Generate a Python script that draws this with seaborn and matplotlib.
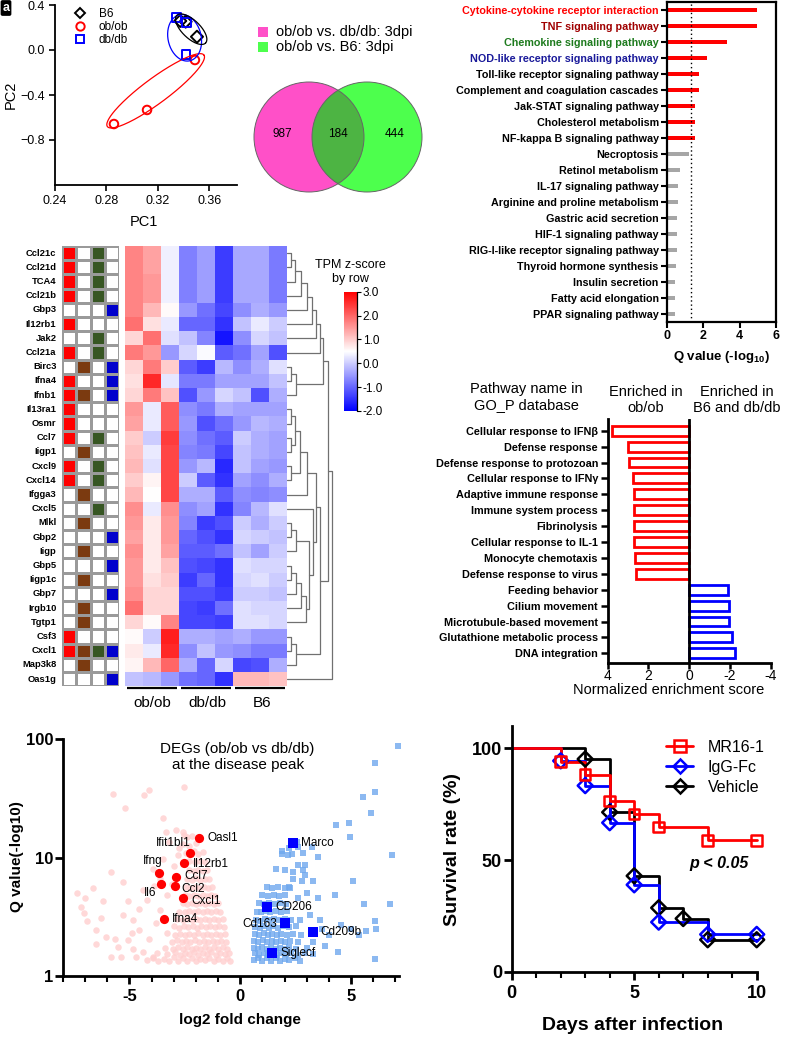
import numpy as np
import pandas as pd
import matplotlib
matplotlib.use('Agg')
import matplotlib.pyplot as plt
import seaborn as sns
from matplotlib import font_manager
from matplotlib.colors import LinearSegmentedColormap, ListedColormap
from matplotlib.patches import Circle, Rectangle
from matplotlib.lines import Line2D
from matplotlib.ticker import NullLocator, MultipleLocator

# ── Data ──────────────────────────────────────────────────────
# PCA
pca_group = ['B6', 'B6', 'B6', 'ob/ob', 'ob/ob', 'ob/ob', 'db/db', 'db/db', 'db/db']
pca_pc1 = [0.3373, 0.3415, 0.3503, 0.2858, 0.3115, 0.3487, 0.3345, 0.3423, 0.3418]
pca_pc2 = [0.258, 0.252, 0.118, -0.658, -0.533, -0.089, 0.290, 0.246, -0.038]
# group ellipses: centre and half-axis vectors (data units)
ell_center = {'ob/ob': (0.3182, -0.3627), 'db/db': (0.3407, 0.1084), 'B6': (0.3458, 0.1849)}
ell_major = {'ob/ob': (0.0375, 0.318), 'db/db': (-0.0039, 0.2044), 'B6': (0.0112, -0.1227)}
ell_minor = {'ob/ob': (0.0058, -0.0893), 'db/db': (0.0126, 0.0311), 'B6': (-0.0048, -0.0578)}

# Venn
venn_labels = ['ob/ob vs. db/db: 3dpi', 'ob/ob vs. B6: 3dpi']
venn_only_a, venn_both, venn_only_b = 987, 184, 444

# KEGG enrichment
kegg_terms = ['Cytokine-cytokine receptor interaction', 'TNF signaling pathway',
              'Chemokine signaling pathway', 'NOD-like receptor signaling pathway',
              'Toll-like receptor signaling pathway', 'Complement and coagulation cascades',
              'Jak-STAT signaling pathway', 'Cholesterol metabolism',
              'NF-kappa B signaling pathway', 'Necroptosis', 'Retinol metabolism',
              'IL-17 signaling pathway', 'Arginine and proline metabolism',
              'Gastric acid secretion', 'HIF-1 signaling pathway',
              'RIG-I-like receptor signaling pathway', 'Thyroid hormone synthesis',
              'Insulin secretion', 'Fatty acid elongation', 'PPAR signaling pathway']
kegg_q = [4.94, 4.94, 3.28, 2.18, 1.78, 1.78, 1.56, 1.56, 1.56, 1.23,
          0.72, 0.63, 0.60, 0.55, 0.55, 0.55, 0.51, 0.44, 0.44, 0.42]
kegg_significant = [True] * 9 + [False] * 11
kegg_label_colors = ['#FF0000', '#A00000', '#1E7B1E', '#1A1A9A'] + ['black'] * 16
kegg_cutoff = 1.3

# GSEA
gsea_terms = ['Cellular response to IFNβ', 'Defense response', 'Defense response to protozoan',
              'Cellular response to IFNγ', 'Adaptive immune response', 'Immune system process',
              'Fibrinolysis', 'Cellular response to IL-1', 'Monocyte chemotaxis',
              'Defense response to virus', 'Feeding behavior', 'Cilium movement',
              'Microtubule-based movement', 'Glutathione metabolic process', 'DNA integration']
gsea_nes = [3.79, 3.02, 2.97, 2.76, 2.73, 2.70, 2.70, 2.70, 2.65, 2.63,
            -1.90, -1.96, -1.96, -2.09, -2.27]
gsea_side = ['ob/ob'] * 10 + ['B6 and db/db'] * 5

# Heatmap
genes = ['Ccl21c', 'Ccl21d', 'TCA4', 'Ccl21b', 'Gbp3', 'Il12rb1', 'Jak2', 'Ccl21a', 'Birc3',
         'Ifna4', 'Ifnb1', 'Il13ra1', 'Osmr', 'Ccl7', 'Iigp1', 'Cxcl9', 'Cxcl14', 'Ifgga3',
         'Cxcl5', 'Mlkl', 'Gbp2', 'Iigp', 'Gbp5', 'Iigp1c', 'Gbp7', 'Irgb10', 'Tgtp1', 'Csf3',
         'Cxcl1', 'Map3k8', 'Oas1g']
heat_groups = ['ob/ob', 'db/db', 'B6']
ann_red = [1, 1, 1, 1, 0, 1, 0, 1, 0, 1, 1, 1, 1, 1, 0, 1, 1, 0, 0, 0, 0, 0, 0, 0, 0, 0, 0, 1, 1, 0, 0]
ann_brown = [0, 0, 0, 0, 0, 0, 0, 0, 1, 0, 1, 0, 0, 0, 1, 0, 0, 1, 0, 1, 0, 1, 0, 1, 0, 1, 1, 0, 1, 1, 0]
ann_green = [1, 1, 1, 1, 0, 0, 1, 1, 0, 0, 0, 0, 0, 1, 0, 1, 1, 0, 1, 0, 0, 0, 0, 0, 0, 0, 0, 0, 1, 0, 0]
ann_blue = [0, 0, 0, 0, 1, 0, 0, 0, 1, 1, 1, 0, 0, 0, 0, 0, 0, 0, 0, 0, 1, 0, 1, 0, 1, 0, 0, 0, 1, 0, 1]
tpm_z = [
    [1.7, 1.4, 0.35, -0.75, -0.45, -1.4, -0.35, -0.35, -0.8],
    [1.7, 1.4, 0.35, -0.75, -0.45, -1.4, -0.35, -0.35, -0.8],
    [1.7, 1.5, 0.35, -0.75, -0.45, -1.4, -0.35, -0.35, -0.8],
    [1.7, 1.5, 0.35, -0.75, -0.45, -1.4, -0.35, -0.35, -0.8],
    [1.7, 1.2, 0.55, -0.5, -0.9, -1.3, -0.6, -0.3, -0.5],
    [1.9, 0.8, 0.3, -1.0, -1.0, -1.5, -0.1, 0.3, 0.0],
    [0.9, 1.9, 0.2, -0.1, -0.7, -1.8, -0.6, 0.1, -0.1],
    [1.8, 1.5, -0.5, 0.1, 0.45, -1.1, -0.9, -0.4, -1.2],
    [0.9, 1.8, 1.0, -1.1, -1.4, -0.2, -0.6, -0.3, 0.2],
    [0.8, 2.6, 0.25, -0.8, -0.8, -0.4, -0.4, -0.4, -0.1],
    [0.9, 1.8, 1.1, -1.2, -0.5, 0.1, -0.1, -1.2, -0.3],
    [1.5, 0.3, 2.1, -0.6, -0.8, -0.3, -0.4, -0.4, -0.4],
    [1.4, 0.3, 2.1, -0.5, -1.2, -0.9, -0.5, -0.2, -0.3],
    [1.0, 0.0, 2.4, -0.6, -0.9, -1.1, 0.0, -0.3, -0.4],
    [1.1, 0.3, 2.3, -0.7, -0.8, -1.3, -0.1, -0.3, -0.4],
    [1.2, 0.2, 2.3, -0.5, -0.2, -1.6, -0.1, -0.4, -0.5],
    [1.0, 0.6, 2.3, 0.0, -1.1, -1.5, -0.4, -0.6, -0.3],
    [1.2, 0.5, 2.3, -0.3, -0.3, -1.1, -0.6, -0.7, -0.6],
    [1.6, 0.3, 1.6, -0.6, -0.4, -1.5, -0.7, -0.2, 0.2],
    [1.5, 0.7, 1.5, -0.7, -1.4, -1.2, 0.0, -0.3, 0.0],
    [1.4, 0.7, 1.5, -1.0, -1.2, -1.5, 0.1, 0.0, -0.1],
    [1.6, 0.7, 1.4, -1.1, -1.1, -0.9, -0.1, -0.4, 0.0],
    [1.5, 0.7, 1.1, -1.2, -1.3, -1.5, 0.2, 0.1, 0.1],
    [1.5, 0.8, 1.0, -1.4, -1.0, -1.5, 0.1, 0.2, 0.0],
    [1.6, 0.9, 0.9, -1.2, -1.2, -1.4, 0.0, 0.0, -0.1],
    [1.9, 0.9, 0.9, -1.3, -1.4, -0.9, 0.2, 0.1, 0.1],
    [0.9, 0.55, 1.7, -1.3, -1.3, -1.4, 0.2, 0.2, 0.1],
    [0.55, 0.0, 2.7, -0.3, -0.3, -0.4, -0.3, -0.5, -0.5],
    [0.7, 0.3, 2.6, -0.6, -0.1, -0.5, -0.6, -0.8, -0.8],
    [0.6, 1.2, 2.0, -0.3, -1.0, 0.1, -1.3, -1.2, -0.3],
    [-0.1, -0.2, -0.5, -0.9, -1.0, -1.5, 1.2, 1.2, 1.1],
]
# row dendrogram: (left, right, height); leaves are row indices
a_chain = (((((((0, 1, 4), 2, 8), 3, 14), 4, 20), 5, 25), 6, 29), 7, 33)
b_grp = ((8, 9, 4), 10, 9)
c_top = (((((11, 12, 4), (13, 14, 4), 8), (15, 16, 4), 13), 17, 20),
         (18, (((19, 20, 4), 21, 9), ((((22, 23, 4), 24, 9), 25, 14), 26, 19), 22), 26), 29)
f_grp = ((27, 28, 4), 29, 9)
row_tree = (((a_chain, b_grp, 36), (c_top, f_grp, 33), 41), 30, 45)

# Volcano
pink_pts = [
    (-4.2, 1.36), (-3.95, 1.42), (-3.7, 1.33), (-3.45, 1.4), (-3.2, 1.35), (-3.0, 1.44), (-2.8, 1.34),
    (-2.6, 1.41), (-2.4, 1.35), (-2.2, 1.43), (-2.0, 1.33), (-1.8, 1.4), (-1.6, 1.36), (-1.4, 1.42),
    (-1.2, 1.34), (-1.0, 1.4), (-0.8, 1.35), (-0.6, 1.42), (-0.48, 1.34),
    (-3.75, 1.55), (-3.3, 1.52), (-2.95, 1.58), (-2.7, 1.5), (-2.5, 1.56), (-2.3, 1.52), (-2.1, 1.58),
    (-1.9, 1.5), (-1.7, 1.56), (-1.5, 1.52), (-1.3, 1.58), (-1.1, 1.5), (-0.9, 1.56), (-0.7, 1.52),
    (-0.52, 1.57),
    (-3.4, 1.72), (-3.05, 1.68), (-2.8, 1.75), (-2.6, 1.7), (-2.4, 1.76), (-2.2, 1.69), (-2.0, 1.74),
    (-1.8, 1.7), (-1.6, 1.77), (-1.4, 1.69), (-1.2, 1.75), (-1.0, 1.7), (-0.8, 1.76), (-0.58, 1.7),
    (-3.1, 1.95), (-2.85, 2.0), (-2.65, 1.92), (-2.45, 1.98), (-2.25, 1.93), (-2.05, 2.0), (-1.85, 1.94),
    (-1.65, 1.99), (-1.45, 1.92), (-1.25, 1.98), (-1.05, 1.93), (-0.85, 1.99), (-0.63, 1.94),
    (-3.3, 2.3), (-2.95, 2.22), (-2.7, 2.28), (-2.5, 2.2), (-2.3, 2.27), (-2.1, 2.21), (-1.9, 2.29),
    (-1.7, 2.22), (-1.5, 2.28), (-1.3, 2.2), (-1.1, 2.26), (-0.9, 2.22), (-0.68, 2.28),
    (-3.0, 2.62), (-2.75, 2.55), (-2.55, 2.65), (-2.35, 2.58), (-2.15, 2.64), (-1.95, 2.56),
    (-1.75, 2.63), (-1.55, 2.57), (-1.35, 2.66), (-1.15, 2.58), (-0.95, 2.63), (-0.74, 2.57),
    (-2.85, 3.02), (-2.6, 2.95), (-2.4, 3.05), (-2.2, 2.97), (-2.0, 3.04), (-1.8, 2.96), (-1.6, 3.03),
    (-1.4, 2.95), (-1.2, 3.05), (-1.0, 2.98), (-0.8, 3.03),
    (-2.75, 3.5), (-2.5, 3.44), (-2.3, 3.55), (-2.1, 3.46), (-1.9, 3.53), (-1.7, 3.45), (-1.5, 3.55),
    (-1.3, 3.47), (-1.1, 3.52), (-0.9, 3.46),
    (-2.6, 4.1), (-2.4, 4.02), (-2.2, 4.15), (-2.0, 4.05), (-1.8, 4.12), (-1.6, 4.03), (-1.4, 4.14),
    (-1.2, 4.06), (-1.0, 4.1),
    (-2.5, 4.8), (-2.3, 4.72), (-2.1, 4.86), (-1.9, 4.75), (-1.7, 4.84), (-1.5, 4.74), (-1.3, 4.82),
    (-1.12, 4.76),
    (-2.45, 5.6), (-2.25, 5.5), (-2.05, 5.65), (-1.85, 5.52), (-1.65, 5.62), (-1.45, 5.5), (-1.28, 5.6),
    (-2.4, 6.6), (-2.2, 6.5), (-2.0, 6.7), (-1.8, 6.52), (-1.6, 6.65), (-1.42, 6.55),
    (-2.3, 7.8), (-2.1, 7.65), (-1.9, 7.9), (-1.7, 7.7), (-1.52, 7.85),
    (-2.3, 9.3), (-2.05, 9.1), (-1.8, 9.4), (-1.6, 9.2),
    (-2.45, 11.0), (-2.1, 11.3), (-1.9, 10.8), (-1.7, 11.2),
    (-2.6, 13.0), (-2.3, 12.6), (-2.0, 13.2), (-2.55, 15.6), (-2.2, 15.2),
    (-5.75, 34.4), (-4.36, 34.0), (-4.14, 37.3), (-2.52, 39.4), (-5.19, 26.2), (-3.47, 21.5),
    (-7.35, 5.06), (-6.65, 5.5), (-7.17, 3.85), (-7.07, 3.4), (-6.5, 2.45), (-5.82, 7.6), (-5.3, 6.25),
    (-6.2, 4.3), (-6.53, 1.85), (-6.05, 2.15), (-5.82, 1.46), (-5.37, 1.46), (-5.07, 2.0), (-4.85, 1.7),
    (-4.55, 2.45), (-4.1, 2.05), (-3.95, 1.46), (-5.07, 4.3), (-4.55, 3.7), (-5.3, 3.3), (-5.67, 2.05),
    (-4.85, 3.0), (-4.4, 5.3), (-3.95, 8.0), (-3.5, 9.8), (-3.2, 13.5), (-2.9, 17.0), (-3.35, 16.5),
    (-2.6, 16.5), (-2.4, 15.0), (-3.8, 2.8), (-3.6, 3.6), (-4.2, 4.4), (-3.9, 5.8), (-3.6, 6.6),
    (-3.3, 4.8), (-3.1, 6.0), (-3.0, 8.5), (-2.8, 10.5), (-2.75, 12.0), (-4.9, 2.3), (-6.9, 2.9),
    (-6.3, 3.1), (-5.5, 1.75), (-4.7, 1.45), (-4.4, 1.6), (-7.0, 4.6),
]
blue_pts = [
    (0.6, 1.36), (0.8, 1.42), (1.0, 1.34), (1.2, 1.41), (1.4, 1.35), (1.6, 1.43), (1.8, 1.34), (2.0, 1.4),
    (2.2, 1.36), (2.45, 1.42), (2.7, 1.35),
    (0.65, 1.55), (0.85, 1.5), (1.05, 1.57), (1.25, 1.51), (1.45, 1.56), (1.65, 1.5), (1.85, 1.57),
    (2.05, 1.52), (2.3, 1.56), (2.6, 1.5), (2.9, 1.55), (3.3, 1.52),
    (0.6, 1.72), (0.8, 1.68), (1.0, 1.76), (1.2, 1.7), (1.4, 1.75), (1.6, 1.68), (1.8, 1.74), (2.0, 1.7),
    (2.2, 1.76), (2.5, 1.7), (3.0, 1.74),
    (0.62, 1.96), (0.82, 1.92), (1.02, 2.0), (1.22, 1.93), (1.42, 1.99), (1.62, 1.92), (1.82, 1.98),
    (2.02, 1.94), (2.25, 1.99), (2.6, 1.93),
    (0.65, 2.25), (0.85, 2.2), (1.05, 2.3), (1.25, 2.22), (1.45, 2.28), (1.65, 2.2), (1.85, 2.27),
    (2.1, 2.22), (2.4, 2.28), (2.75, 2.22),
    (0.68, 2.6), (0.88, 2.55), (1.08, 2.65), (1.28, 2.56), (1.48, 2.63), (1.7, 2.55), (1.95, 2.62),
    (2.2, 2.57), (2.5, 2.64),
    (0.7, 3.0), (0.9, 2.94), (1.1, 3.05), (1.3, 2.96), (1.5, 3.04), (1.75, 2.95), (2.0, 3.03), (2.3, 2.96),
    (0.75, 3.5), (0.95, 3.44), (1.15, 3.55), (1.35, 3.46), (1.6, 3.53), (1.85, 3.45), (2.1, 3.54),
    (0.85, 4.1), (1.05, 4.02), (1.3, 4.15), (1.55, 4.05), (1.8, 4.12), (2.05, 4.03),
    (1.0, 4.8), (1.25, 4.72), (1.5, 4.86), (1.75, 4.75), (2.0, 4.84),
    (1.2, 5.6), (1.45, 5.5), (1.7, 5.65), (2.0, 5.52), (2.2, 5.62),
    (7.1, 88.5), (6.08, 63.5), (6.06, 35.7), (5.53, 32.3), (5.9, 23.9), (4.34, 18.8), (4.9, 19.5),
    (4.94, 14.8), (3.24, 12.2), (3.5, 10.2), (6.84, 10.6), (5.08, 6.35), (4.27, 4.84), (5.6, 4.06),
    (6.77, 4.06), (3.52, 4.6), (4.56, 2.7), (5.0, 2.5), (5.67, 2.4), (6.12, 2.5), (6.1, 2.9), (5.38, 2.2),
    (6.1, 1.39), (3.83, 1.8), (3.3, 1.95), (3.68, 2.5), (2.7, 3.0), (3.15, 3.3), (1.63, 8.0), (2.0, 7.8),
    (2.4, 7.5), (2.85, 7.8), (2.93, 7.1), (2.36, 6.6), (2.8, 6.3), (2.26, 5.5), (3.3, 6.4), (1.87, 10.7),
    (2.17, 10.5), (2.32, 10.7), (2.6, 12.3), (1.87, 11.3), (2.83, 11.0), (2.9, 8.7), (2.6, 8.6),
    (3.0, 5.0), (2.6, 4.6), (3.6, 3.0), (4.0, 2.2), (4.4, 1.6), (2.55, 13.5), (2.2, 12.0),
]
up_genes = ['Oasl1', 'Ifit1bl1', 'Il12rb1', 'Ifng', 'Ccl7', 'Il6', 'Ccl2', 'Cxcl1', 'Ifna4']
up_lfc = [-1.85, -2.28, -2.55, -3.66, -2.89, -3.56, -2.95, -2.59, -3.44]
up_q = [14.6, 11.0, 9.08, 7.38, 6.83, 6.0, 5.77, 4.54, 3.03]
down_genes = ['Marco', 'CD206', 'Cd163', 'Cd209b', 'Siglecf']
down_lfc = [2.37, 1.20, 2.03, 3.26, 1.44]
down_q = [13.2, 3.85, 2.79, 2.37, 1.56]

# Survival
surv_groups = ['Vehicle', 'IgG-Fc', 'MR16-1']
surv_days = {'Vehicle': [0, 3, 4, 5, 6, 7, 8, 10],
             'IgG-Fc': [0, 2, 3, 4, 5, 6, 8, 10],
             'MR16-1': [0, 2, 3, 4, 5, 6, 8, 10]}
surv_rate = {'Vehicle': [100, 95.2, 71.4, 42.9, 28.6, 23.8, 14.3, 14.3],
             'IgG-Fc': [100, 94.4, 83.3, 66.7, 38.9, 22.2, 16.7, 16.7],
             'MR16-1': [100, 94.1, 88.2, 76.5, 70.6, 64.7, 58.8, 58.8]}

# ── Style ─────────────────────────────────────────────────────
sns.set_style('ticks', rc={'axes.edgecolor': 'black', 'text.color': 'black',
                           'xtick.color': 'black', 'ytick.color': 'black',
                           'axes.labelcolor': 'black'})
plt.rcParams['font.family'] = ['Liberation Sans', 'DejaVu Sans']
plt.rcParams['mathtext.fontset'] = 'custom'
plt.rcParams['mathtext.rm'] = 'Liberation Sans'
plt.rcParams['mathtext.bf'] = 'Liberation Sans:bold'

names = {f.name for f in font_manager.fontManager.ttflist}
if 'Liberation Sans Narrow' in names:
    NARROW, NS = ['Liberation Sans Narrow', 'DejaVu Sans'], 1.0
else:
    NARROW, NS = ['Liberation Sans', 'DejaVu Sans'], 0.82

W, H = 787, 1038
fig = plt.figure(figsize=(W / 100, H / 100), dpi=100)


def px_axes(x0, y0, x1, y1):
    return fig.add_axes([x0 / W, 1 - y1 / H, (x1 - x0) / W, (y1 - y0) / H])


def ftext(x, y, s, **kw):
    kw.setdefault('ha', 'center')
    kw.setdefault('va', 'center')
    return fig.text(x / W, 1 - y / H, s, **kw)


def hollow(coll, lw):
    fc = coll.get_facecolors()
    coll.set_edgecolors(fc)
    coll.set_facecolors('none')
    coll.set_linewidths(lw)


# ── Panel: PCA ────────────────────────────────────────────────
ax = px_axes(55, 5, 237, 185)
pca_colors = {'B6': 'black', 'ob/ob': '#FF0000', 'db/db': '#0000FF'}
pca_markers = {'B6': 'D', 'ob/ob': 'o', 'db/db': 's'}
pca_df = pd.DataFrame({'PC1': pca_pc1, 'PC2': pca_pc2, 'group': pca_group})
sns.scatterplot(data=pca_df, x='PC1', y='PC2', hue='group', style='group',
                palette=pca_colors, markers=pca_markers, s=38, legend=False, ax=ax)
hollow(ax.collections[-1], 1.4)
t = np.linspace(0, 2 * np.pi, 200)
for g in ell_center:
    cx, cy = ell_center[g]
    ux, uy = ell_major[g]
    vx, vy = ell_minor[g]
    ax.plot(cx + ux * np.cos(t) + vx * np.sin(t), cy + uy * np.cos(t) + vy * np.sin(t),
            color=pca_colors[g], lw=0.9)
ax.set_xlim(0.24, 0.3814)
ax.set_ylim(-1.2, 0.4)
ax.set_xticks([0.24, 0.28, 0.32, 0.36])
ax.set_yticks([0.4, 0.0, -0.4, -0.8])
ax.set_xticklabels(['0.24', '0.28', '0.32', '0.36'])
ax.set_yticklabels(['0.4', '0.0', '\u22120.4', '\u22120.8'])
ax.tick_params(labelsize=9, length=4, width=1.2)
sns.despine(ax=ax)
for sp in ax.spines.values():
    sp.set_linewidth(1.3)
ax.set_xlabel('')
ax.set_ylabel('')
ftext(144, 222, 'PC1', fontsize=10.5)
ftext(11, 95, 'PC2', fontsize=10.5, rotation=90)
handles = [Line2D([], [], ls='none', marker=pca_markers[g], mfc='none', mec=pca_colors[g],
                  mew=1.4, ms=6 if g != 'B6' else 5) for g in ['B6', 'ob/ob', 'db/db']]
fig.legend(handles, ['B6', 'ob/ob', 'db/db'], loc='upper left',
           bbox_to_anchor=(74 / W, 1 - 8 / H), frameon=False, fontsize=8.5,
           handlelength=1.0, handletextpad=1.1, labelspacing=0.1, borderpad=0,
           borderaxespad=0)
ftext(6, 8, 'a', fontsize=9, fontweight='bold', color='white',
      bbox=dict(boxstyle='round,pad=0.15', fc='black', ec='none'))

# ── Panel: Venn ───────────────────────────────────────────────
axv = px_axes(245, 20, 435, 200)
axv.set_xlim(245, 435)
axv.set_ylim(200, 20)
axv.axis('off')
pink, green, mix = '#FF50C8', '#4DFF4D', '#4DB443'
c_a = Circle((309, 137), 55, fc=pink, ec='none')
axv.add_patch(c_a)
axv.add_patch(Circle((367, 137), 55, fc=green, ec='none'))
ov = Circle((367, 137), 55, fc=mix, ec='none')
axv.add_patch(ov)
ov.set_clip_path(c_a)
axv.add_patch(Circle((309, 137), 55, fc='none', ec='#666666', lw=0.7))
axv.add_patch(Circle((367, 137), 55, fc='none', ec='#666666', lw=0.7))
axv.text(282, 134, str(venn_only_a), fontsize=8.5, ha='center', va='center')
axv.text(338, 134, str(venn_both), fontsize=8.5, ha='center', va='center')
axv.text(395, 134, str(venn_only_b), fontsize=8.5, ha='center', va='center')
axv.add_patch(Rectangle((258, 27), 10, 10, fc=pink, ec='none'))
axv.add_patch(Rectangle((258, 42), 10, 10, fc=green, ec='none'))
axv.text(276, 32, venn_labels[0], fontsize=10.5, va='center')
axv.text(276, 47, venn_labels[1], fontsize=10.5, va='center')

# ── Panel: KEGG ───────────────────────────────────────────────
ax = px_axes(667, 2, 776, 322)
kdf = pd.DataFrame({'term': kegg_terms, 'q': kegg_q})
kcol = {tm: ('#FF0000' if s else '#A6A6A6') for tm, s in zip(kegg_terms, kegg_significant)}
sns.barplot(data=kdf, x='q', y='term', hue='term', palette=kcol, width=0.28,
            saturation=1, linewidth=0, legend=False, ax=ax)
ax.axvline(kegg_cutoff, ls=(0, (1, 2)), color='black', lw=1)
ax.set_xlim(0, 6)
ax.set_ylim(19.5, -0.5)
ax.set_xticks([0, 2, 4, 6])
ax.set_xticklabels(['0', '2', '4', '6'], fontweight='bold', fontsize=9)
ax.set_yticks(range(len(kegg_terms)))
ax.set_yticklabels(kegg_terms, family=NARROW, fontweight='bold', fontsize=9.5 * NS)
for lbl, c in zip(ax.get_yticklabels(), kegg_label_colors):
    lbl.set_color(c)
ax.tick_params(length=4, width=1.5, pad=2)
for sp in ax.spines.values():
    sp.set_linewidth(1.6)
ax.set_xlabel('')
ax.set_ylabel('')
ftext(721.5, 356.5, r'Q value (-log$_{\mathbf{10}}$)', fontsize=9.5, fontweight='bold')

# ── Panel: heatmap ────────────────────────────────────────────
hm_top, hm_bot = 246, 686.2
ax_ann = px_axes(62, hm_top, 119.3, hm_bot)
ann_codes = pd.DataFrame({'c1': [v * 1 for v in ann_red], 'c2': [v * 2 for v in ann_brown],
                          'c3': [v * 3 for v in ann_green], 'c4': [v * 4 for v in ann_blue]},
                         index=genes)
ann_cmap = ListedColormap(['white', '#FF0000', '#7B3A10', '#375623', '#0000CC'])
sns.heatmap(ann_codes, cmap=ann_cmap, vmin=-0.5, vmax=4.5, cbar=False, linewidths=0.8,
            linecolor='#9A9A9A', xticklabels=False, yticklabels=True, ax=ax_ann)
ax_ann.set_yticklabels(genes, family=NARROW, fontweight='bold', fontsize=8.2 * NS, rotation=0)
ax_ann.tick_params(axis='y', length=0, pad=4)
ax_ann.set_ylabel('')

ax_hm = px_axes(125, hm_top, 287.3, hm_bot)
cax = px_axes(344, 291.7, 357.3, 411)
z_cmap = LinearSegmentedColormap.from_list('bwr3', ['#0000FF', '#FFFFFF', '#FF0000'])
sns.heatmap(pd.DataFrame(tpm_z, index=genes), cmap=z_cmap, vmin=-2, vmax=3, ax=ax_hm,
            cbar_ax=cax, xticklabels=False, yticklabels=False,
            cbar_kws={'ticks': [-2, -1, 0, 1, 2, 3], 'format': '%.1f'})
cbar = ax_hm.collections[0].colorbar
cbar.outline.set_visible(False)
cax.plot([1, 1], [-2, 3], color='black', lw=0.9, clip_on=False)
cax.tick_params(labelsize=8.5, length=3, width=0.8, pad=1)
ftext(350, 272, 'TPM z-score\nby row', fontsize=9, linespacing=1.25)
for gi, g in enumerate(heat_groups):
    ax_hm.plot([gi * 3 + 0.12, gi * 3 + 2.9], [31.15, 31.15], color='black', lw=1.6,
               clip_on=False, solid_capstyle='butt')
    ftext(152 + gi * 55, 703, g, fontsize=11)

ax_d = px_axes(287.3, hm_top, 338, hm_bot)
ax_d.set_xlim(0, 50.7)
ax_d.set_ylim(31, 0)
ax_d.axis('off')


def draw_tree(node):
    if isinstance(node, int):
        return node + 0.5, 0.0
    left, right, h = node
    ly, lh = draw_tree(left)
    ry, rh = draw_tree(right)
    ax_d.plot([lh, h, h, rh], [ly, ly, ry, ry], color='#707070', lw=0.9)
    return (ly + ry) / 2, h


draw_tree(row_tree)

# ── Panel: GSEA ───────────────────────────────────────────────
ax = px_axes(607.7, 419, 770.7, 662.7)
gdf = pd.DataFrame({'term': gsea_terms, 'nes': gsea_nes, 'side': gsea_side})
sns.barplot(data=gdf, x='nes', y='term', hue='side', dodge=False, fill=False,
            palette={'ob/ob': '#FF0000', 'B6 and db/db': '#0000FF'}, saturation=1,
            linewidth=2, width=0.62, legend=False, ax=ax)
ax.axvline(0, color='black', lw=2)
ax.set_xlim(4, -4)
ax.set_ylim(14.59, -0.736)
ax.set_xticks([4, 2, 0, -2, -4])
ax.set_xticklabels(['4', '2', '0', '-2', '-4'], fontsize=10)
ax.set_yticks(range(len(gsea_terms)))
ax.set_yticklabels(gsea_terms, family=NARROW, fontweight='bold', fontsize=9.6 * NS)
ax.tick_params(axis='y', length=5, width=1.8, pad=2)
ax.tick_params(axis='x', length=4, width=1.8, pad=0.5)
sns.despine(ax=ax)
for sp in ['left', 'bottom']:
    ax.spines[sp].set_linewidth(2)
ax.set_xlabel('')
ax.set_ylabel('')
ftext(526, 397, 'Pathway name in\nGO_P database', fontsize=10.5, linespacing=1.1)
ftext(646, 400, 'Enriched in\nob/ob', fontsize=10.5, linespacing=1.1)
ftext(737, 400, 'Enriched in\nB6 and db/db', fontsize=10.5, linespacing=1.1)
ftext(669, 690, 'Normalized enrichment score', fontsize=10.5)

# ── Panel: Volcano ────────────────────────────────────────────
ax = px_axes(63, 739.3, 398.7, 976)
ax.set_yscale('log')
sns.scatterplot(x=[p[0] for p in pink_pts], y=[p[1] for p in pink_pts], color='#FFCFCF',
                alpha=0.8, s=22, linewidth=0, ax=ax)
sns.scatterplot(x=[p[0] for p in blue_pts], y=[p[1] for p in blue_pts], color='#6FA8EE',
                alpha=0.8, s=20, marker='s', linewidth=0, ax=ax, clip_on=False)
sns.scatterplot(x=up_lfc, y=up_q, color='#FF0000', s=44, linewidth=0, ax=ax)
sns.scatterplot(x=down_lfc, y=down_q, color='#0000FF', s=44, marker='s', linewidth=0, ax=ax)
up_off = {'Oasl1': (8, 0, 'left'), 'Ifit1bl1': (-16, 10, 'center'), 'Il12rb1': (9, -1, 'left'),
          'Ifng': (-6, 12, 'center'), 'Ccl7': (8, 1, 'left'), 'Il6': (-11, -9, 'center'),
          'Ccl2': (6.5, -2.7, 'left'), 'Cxcl1': (8, -2.7, 'left'), 'Ifna4': (8, 0, 'left')}
down_off = {'Marco': (8, 0, 'left'), 'CD206': (9, 0, 'left'), 'Cd163': (-8, -0.5, 'right'),
            'Cd209b': (8, -0.5, 'left'), 'Siglecf': (8.5, 0, 'left')}
for names_, xs, ys, offs in [(up_genes, up_lfc, up_q, up_off), (down_genes, down_lfc, down_q, down_off)]:
    for n, x, y in zip(names_, xs, ys):
        dx, dy, ha = offs[n]
        ax.annotate(n, (x, y), xytext=(dx * 0.72, dy * 0.72), textcoords='offset points',
                    ha=ha, va='center', fontsize=8.5)
ax.set_xlim(-8, 7.15)
ax.set_ylim(1, 100)
ax.set_yticks([1, 10, 100])
ax.set_yticklabels(['1', '10', '100'], fontsize=12, fontweight='bold')
ax.yaxis.set_minor_locator(NullLocator())
ax.set_xticks([-5, 0, 5])
ax.set_xticklabels(['-5', '0', '5'], fontsize=12, fontweight='bold')
ax.xaxis.set_minor_locator(MultipleLocator(1))
ax.tick_params(which='major', length=6, width=2)
ax.tick_params(which='minor', length=4, width=1.5)
ax.tick_params(axis='y', pad=1)
sns.despine(ax=ax)
for sp in ['left', 'bottom']:
    ax.spines[sp].set_linewidth(2)
ax.set_xlabel('')
ax.set_ylabel('')
ax.text(0.52, 0.99, 'DEGs (ob/ob vs db/db)\nat the disease peak', transform=ax.transAxes,
        ha='center', va='top', fontsize=11, linespacing=1.2)
ftext(240, 1020, 'log2 fold change', fontsize=11, fontweight='bold')
ftext(17, 857, 'Q value(-log10)', fontsize=11, fontweight='bold', rotation=90)

# ── Panel: Survival ───────────────────────────────────────────
ax = px_axes(511.7, 726, 756.7, 971.7)
surv_colors = {'Vehicle': 'black', 'IgG-Fc': '#0000FF', 'MR16-1': '#FF0000'}
surv_markers = {'Vehicle': 'D', 'IgG-Fc': 'D', 'MR16-1': 's'}
sdf = pd.concat([pd.DataFrame({'day': surv_days[g], 'surv': surv_rate[g], 'group': g})
                 for g in surv_groups], ignore_index=True)
sns.lineplot(data=sdf, x='day', y='surv', hue='group', hue_order=surv_groups,
             palette=surv_colors, estimator=None, drawstyle='steps-post', linewidth=2,
             legend=False, ax=ax, clip_on=False)
mdf = sdf[sdf['day'] > 0]
sns.scatterplot(data=mdf, x='day', y='surv', hue='group', style='group', hue_order=surv_groups,
                style_order=surv_groups, palette=surv_colors, markers=surv_markers, s=58,
                legend=False, ax=ax, clip_on=False, zorder=3)
hollow(ax.collections[-1], 1.8)
ax.text(8.47, 48.3, 'p < 0.05', fontsize=11.5, fontweight='bold', fontstyle='italic',
        ha='center', va='center')
ax.set_xlim(0, 10)
ax.set_ylim(0, 110)
ax.set_xticks([0, 5, 10])
ax.set_xticklabels(['0', '5', '10'], fontsize=13, fontweight='bold')
ax.set_yticks([0, 50, 100])
ax.set_yticklabels(['0', '50', '100'], fontsize=13, fontweight='bold')
ax.xaxis.set_minor_locator(MultipleLocator(1))
ax.tick_params(which='major', length=6, width=2)
ax.tick_params(which='minor', length=4, width=1.5)
ax.tick_params(axis='y', pad=1)
sns.despine(ax=ax)
for sp in ['left', 'bottom']:
    ax.spines[sp].set_linewidth(2)
ax.set_xlabel('')
ax.set_ylabel('')
leg_order = ['MR16-1', 'IgG-Fc', 'Vehicle']
handles = [Line2D([], [], color=surv_colors[g], lw=2, marker=surv_markers[g], mfc='none',
                  mec=surv_colors[g], mew=1.8, ms=8 if g == 'MR16-1' else 7) for g in leg_order]
fig.legend(handles, leg_order, loc='upper left', bbox_to_anchor=(666 / W, 1 - 740 / H),
           frameon=False, fontsize=11.5, handlelength=1.7, handletextpad=0.9,
           labelspacing=0.3, borderpad=0, borderaxespad=0)
ftext(633, 1025, 'Days after infection', fontsize=14, fontweight='bold')
ftext(452, 850, 'Survival rate (%)', fontsize=14, fontweight='bold', rotation=90)

fig.savefig('out.png', dpi=100, facecolor='white')
